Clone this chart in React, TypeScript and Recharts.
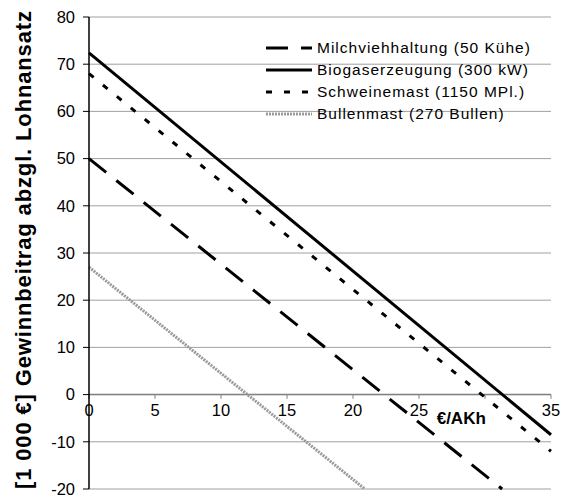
import {
  CartesianGrid,
  Line,
  LineChart,
  ReferenceDot,
  ReferenceLine,
  XAxis,
  YAxis,
} from "recharts";

type Point = { x: number; y: number };

// Lohnansatz (€/AKh) -> Gewinnbeitrag abzgl. Lohnansatz (1 000 €)
const milchvieh: Point[] = [
  { x: 0, y: 50 },
  { x: 31.3, y: -20 },
];
const biogas: Point[] = [
  { x: 0, y: 72.4 },
  { x: 35, y: -8.5 },
];
const schweine: Point[] = [
  { x: 0, y: 68 },
  { x: 35, y: -12 },
];
const bullen: Point[] = [
  { x: 0, y: 27 },
  { x: 20.9, y: -20 },
];

const xTicks = [0, 5, 10, 15, 20, 25, 30, 35];
// the "30" label sits under the axis title in the original
const xTickLabels = ["0", "5", "10", "15", "20", "25", "", "35"];
const yTicks = [-20, -10, 0, 10, 20, 30, 40, 50, 60, 70, 80];

const seriesNames = [
  "Milchviehhaltung (50 Kühe)",
  "Biogaserzeugung (300 kW)",
  "Schweinemast (1150 MPl.)",
  "Bullenmast (270 Bullen)",
];

const yTitle = "[1 000 €] Gewinnbeitrag abzgl. Lohnansatz";
const xTitle = "€/AKh";

const FONT = "Arial, 'Liberation Sans', sans-serif";

const styles = [
  { stroke: "#000", width: 3, dash: "22 13" },
  { stroke: "#000", width: 3, dash: undefined },
  { stroke: "#000", width: 3, dash: "6 12" },
  { stroke: "#9a9a9a", width: 3, dash: "2 1" },
];

function YTitle(props: any) {
  const { viewBox } = props;
  const cx = viewBox.x - 16;
  const cy = 250;
  return (
    <text
      x={cx}
      y={cy}
      transform={`rotate(-90 ${cx} ${cy})`}
      textAnchor="middle"
      dominantBaseline="central"
      fontFamily={FONT}
      fontWeight="bold"
      fontSize={22}
      textLength={478}
      lengthAdjust="spacing"
      fill="#000"
    >
      {yTitle}
    </text>
  );
}

function LegendBox() {
  return (
    <div
      style={{
        position: "absolute",
        left: 264,
        top: 37,
        fontFamily: FONT,
        fontSize: 15.5,
        letterSpacing: 1,
        color: "#000",
      }}
    >
      {seriesNames.map((name, i) => (
        <div
          key={name}
          style={{ display: "flex", alignItems: "center", height: 22 }}
        >
          <svg width={50} height={10}>
            <line
              x1={2}
              y1={5}
              x2={48}
              y2={5}
              stroke={styles[i].stroke}
              strokeWidth={styles[i].width}
              strokeDasharray={styles[i].dash}
            />
          </svg>
          <span style={{ marginLeft: 3, whiteSpace: "nowrap" }}>{name}</span>
        </div>
      ))}
    </div>
  );
}

export default function App() {
  const all = [milchvieh, biogas, schweine, bullen];
  return (
    <div
      style={{
        position: "absolute",
        left: 0,
        top: 0,
        width: 580,
        height: 498,
        background: "#fff",
      }}
    >
      <LineChart
        width={580}
        height={498}
        margin={{ top: 17, right: 29, bottom: 9, left: 39 }}
      >
        <CartesianGrid
          horizontal
          vertical={false}
          stroke="#a0a0a0"
          strokeWidth={1}
        />
        <XAxis
          type="number"
          dataKey="x"
          domain={[0, 35]}
          ticks={xTicks}
          hide
        />
        <YAxis
          type="number"
          domain={[-20, 80]}
          ticks={yTicks}
          interval={0}
          width={50}
          tickSize={6}
          tickMargin={8}
          stroke="#000"
          tickLine={{ stroke: "#000" }}
          axisLine={{ stroke: "#000", strokeWidth: 1.5 }}
          tick={{ fill: "#000", fontSize: 16.5, fontFamily: FONT }}
          label={<YTitle />}
        />
        <ReferenceLine y={0} stroke="#808080" strokeWidth={1.5} />
        {xTicks.map((t) => (
          <ReferenceLine
            key={`tl${t}`}
            segment={[
              { x: t, y: 0 },
              { x: t, y: -0.9 },
            ]}
            stroke="#808080"
          />
        ))}
        {xTicks.map((t, i) =>
          xTickLabels[i] ? (
            <ReferenceDot
              key={`tx${t}`}
              x={t}
              y={0}
              r={0}
              stroke="none"
              fill="none"
              label={{
                value: xTickLabels[i],
                position: "bottom",
                offset: 10,
                fill: "#000",
                fontSize: 16.5,
                fontFamily: FONT,
              }}
            />
          ) : null
        )}
        {all.map((pts, i) => (
          <Line
            key={seriesNames[i]}
            data={pts}
            dataKey="y"
            name={seriesNames[i]}
            type="linear"
            stroke={styles[i].stroke}
            strokeWidth={styles[i].width}
            strokeDasharray={styles[i].dash}
            dot={false}
            activeDot={false}
            isAnimationActive={false}
          />
        ))}
        <ReferenceDot
          x={28.2}
          y={-4.9}
          r={0}
          stroke="none"
          fill="none"
          label={{
            value: xTitle,
            position: "center",
            fill: "#000",
            fontSize: 17,
            fontWeight: "bold",
            fontFamily: FONT,
          }}
        />
      </LineChart>
      <LegendBox />
    </div>
  );
}
